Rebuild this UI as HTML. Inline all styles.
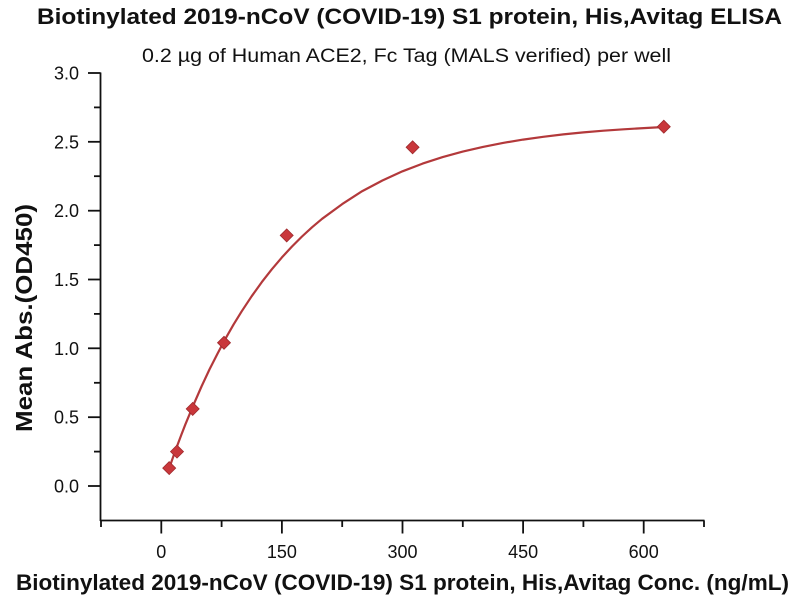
<!DOCTYPE html>
<html>
<head>
<meta charset="utf-8">
<style>
  html, body { margin: 0; padding: 0; background: #ffffff; }
  svg { display: block; }
  text { font-family: "Liberation Sans", "DejaVu Sans", sans-serif; fill: #111; }
</style>
</head>
<body>
<svg width="800" height="600" viewBox="0 0 800 600" xmlns="http://www.w3.org/2000/svg">
  <rect width="800" height="600" fill="#ffffff"/>

  <!-- Titles -->
  <text x="37" y="24" font-size="22" font-weight="bold" textLength="745" lengthAdjust="spacingAndGlyphs">Biotinylated 2019-nCoV (COVID-19) S1 protein, His,Avitag ELISA</text>
  <text x="142" y="62" font-size="19" textLength="529" lengthAdjust="spacingAndGlyphs">0.2 µg of Human ACE2, Fc Tag (MALS verified) per well</text>

  <!-- Axes -->
  <g stroke="#111" stroke-width="1.8" fill="none">
    <line x1="100.5" y1="72.5" x2="100.5" y2="521"/>
    <line x1="100" y1="520.5" x2="704.5" y2="520.5"/>
    <!-- Y major ticks -->
    <line x1="88" y1="73" x2="100.5" y2="73"/>
    <line x1="88" y1="141.8" x2="100.5" y2="141.8"/>
    <line x1="88" y1="210.7" x2="100.5" y2="210.7"/>
    <line x1="88" y1="279.5" x2="100.5" y2="279.5"/>
    <line x1="88" y1="348.3" x2="100.5" y2="348.3"/>
    <line x1="88" y1="417.2" x2="100.5" y2="417.2"/>
    <line x1="88" y1="486" x2="100.5" y2="486"/>
    <!-- Y minor ticks -->
    <line x1="94" y1="107.4" x2="100.5" y2="107.4"/>
    <line x1="94" y1="176.2" x2="100.5" y2="176.2"/>
    <line x1="94" y1="245.1" x2="100.5" y2="245.1"/>
    <line x1="94" y1="313.9" x2="100.5" y2="313.9"/>
    <line x1="94" y1="382.8" x2="100.5" y2="382.8"/>
    <line x1="94" y1="451.6" x2="100.5" y2="451.6"/>
    <!-- X major ticks -->
    <line x1="161.3" y1="520.5" x2="161.3" y2="533.5"/>
    <line x1="281.9" y1="520.5" x2="281.9" y2="533.5"/>
    <line x1="402.5" y1="520.5" x2="402.5" y2="533.5"/>
    <line x1="523.1" y1="520.5" x2="523.1" y2="533.5"/>
    <line x1="643.7" y1="520.5" x2="643.7" y2="533.5"/>
    <!-- X minor ticks -->
    <line x1="101" y1="520.5" x2="101" y2="527"/>
    <line x1="221.6" y1="520.5" x2="221.6" y2="527"/>
    <line x1="342.2" y1="520.5" x2="342.2" y2="527"/>
    <line x1="462.8" y1="520.5" x2="462.8" y2="527"/>
    <line x1="583.4" y1="520.5" x2="583.4" y2="527"/>
    <line x1="704" y1="520.5" x2="704" y2="527"/>
  </g>

  <!-- Y tick labels -->
  <g font-size="18" text-anchor="end">
    <text x="79" y="79.5">3.0</text>
    <text x="79" y="148.3">2.5</text>
    <text x="79" y="217.2">2.0</text>
    <text x="79" y="286">1.5</text>
    <text x="79" y="354.8">1.0</text>
    <text x="79" y="423.7">0.5</text>
    <text x="79" y="492.5">0.0</text>
  </g>

  <!-- X tick labels -->
  <g font-size="18" text-anchor="middle">
    <text x="161.3" y="558">0</text>
    <text x="281.9" y="558">150</text>
    <text x="402.5" y="558">300</text>
    <text x="523.1" y="558">450</text>
    <text x="643.7" y="558">600</text>
  </g>

  <!-- Axis titles -->
  <text x="16" y="590" font-size="22" font-weight="bold" textLength="773" lengthAdjust="spacingAndGlyphs">Biotinylated 2019-nCoV (COVID-19) S1 protein, His,Avitag Conc. (ng/mL)</text>
  <text transform="translate(32,318) rotate(-90)" x="0" y="0" font-size="23" font-weight="bold" text-anchor="middle" textLength="228" lengthAdjust="spacingAndGlyphs">Mean Abs.(OD450)</text>

  <!-- Fitted curve -->
  <polyline fill="none" stroke="#b3393b" stroke-width="2.2" stroke-linejoin="round" stroke-linecap="round"
    points="169.2,468.1 173.3,456.5 177.4,445.3 181.4,434.6 185.4,424.3 193.5,404.8 201.5,386.5 209.5,369.4 217.6,353.5 225.6,338.4 233.6,324.4 241.7,311.3 251.7,296.2 261.8,282.1 271.8,269.3 281.9,257.4 292.0,246.5 302.0,236.5 312.0,227.3 322.1,218.8 342.2,204.1 362.3,191.1 382.4,180.5 402.5,171.3 422.6,163.6 442.7,157.1 462.8,151.6 482.9,146.9 503.0,142.9 523.1,139.6 543.2,136.8 563.3,134.4 583.4,132.4 603.5,130.7 623.6,129.3 643.7,128.1 663.8,127.0"/>

  <!-- Data markers -->
  <g fill="#c9373b" stroke="#9e2a2d" stroke-width="0.8">
    <polygon points="169.2,461.6 175.7,468.1 169.2,474.6 162.7,468.1"/>
    <polygon points="177.0,445.1 183.5,451.6 177.0,458.1 170.5,451.6"/>
    <polygon points="192.7,402.4 199.2,408.9 192.7,415.4 186.2,408.9"/>
    <polygon points="224.0,336.3 230.5,342.8 224.0,349.3 217.5,342.8"/>
    <polygon points="286.7,228.9 293.2,235.4 286.7,241.9 280.2,235.4"/>
    <polygon points="412.6,140.8 419.1,147.3 412.6,153.8 406.1,147.3"/>
    <polygon points="663.8,120.2 670.3,126.7 663.8,133.2 657.3,126.7"/>
  </g>
</svg>
</body>
</html>
